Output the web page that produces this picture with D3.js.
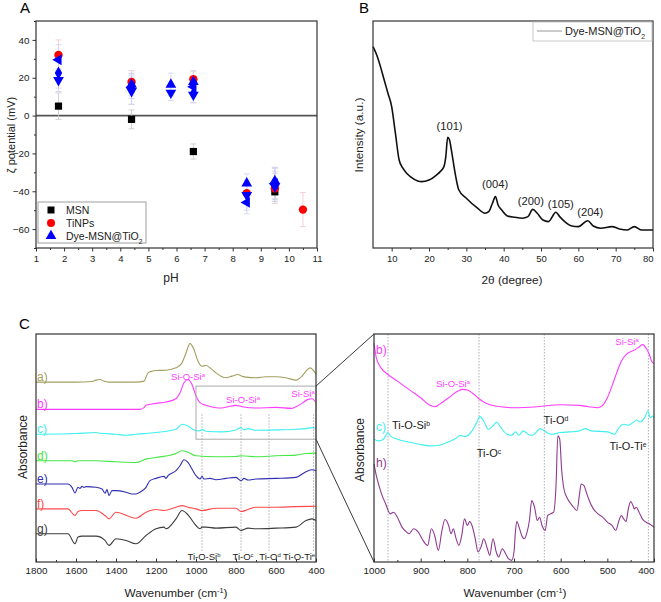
<!DOCTYPE html>
<html><head><meta charset="utf-8">
<script src="https://cdn.jsdelivr.net/npm/d3@7"></script>
<style>body{margin:0;background:#fff}svg{display:block}text{font-family:"Liberation Sans",Arial,sans-serif}</style>
</head><body><svg id="c" width="661" height="602"></svg>
<script>
// ---------- Panel A data: zeta potential vs pH ----------
const msnPts = [ {pH:1.8,v:5,e:7}, {pH:4.4,v:-2,e:5}, {pH:6.6,v:-19,e:4}, {pH:9.5,v:-40.3,e:4} ];
const tinpPts = [ {pH:1.8,v:32,e:8}, {pH:4.4,v:17.8,e:6}, {pH:6.6,v:19.2,e:4}, {pH:8.5,v:-41,e:6}, {pH:9.5,v:-38.5,e:8}, {pH:10.5,v:-49.7,e:9} ];
const dyeUp = [ {pH:4.4,v:16.4,e:6}, {pH:5.8,v:16.4,e:6}, {pH:6.6,v:17.8,e:6}, {pH:8.5,v:-35.8,e:5}, {pH:9.5,v:-34.5,e:7} ];
const dyeDown = [ {pH:1.8,v:18.7,e:6}, {pH:4.4,v:12.9,e:7}, {pH:5.8,v:12,e:4}, {pH:6.6,v:11,e:4}, {pH:8.5,v:-42,e:8}, {pH:9.5,v:-37.5,e:8} ];
const dyeLeft = [ {pH:1.8,v:29.5,e:8}, {pH:4.4,v:15,e:6}, {pH:6.6,v:15.2,e:5}, {pH:8.5,v:-45.9,e:6}, {pH:9.5,v:-36,e:8} ];
const dyeDiamond = [ {pH:1.8,v:22.5,e:8}, {pH:4.4,v:14,e:8}, {pH:6.6,v:11.7,e:5}, {pH:9.5,v:-36.3,e:9} ];
const pHTicks = [1,2,3,4,5,6,7,8,9,10,11];
const zetaTicks = [-60,-40,-20,0,20,40];

// ---------- Panel B data: XRD ----------
const xrdTheta = [5,6,7,8,9,10,11,12,13,14,15,17,18,20,22,23,24,24.5,25,25.5,26,27,28,30,33,35,36,37,37.8,38.5,39.5,41,43,45,46.5,47.8,49,50.5,52,54,55,56.5,58,60,62.5,64,66,69,71,73,75,77,80];
const xrdInt = [886,849,798,739,681,622,505,387,351,329,314,295,292,299,321,336,358,402,487,475,431,329,255,219,175,153,160,197,226,189,167,141,135,131,138,170,153,123,116,157,138,114,98,94,120,97,87,94,84,79,94,79,79];
const xrdPeaks = [ {t:25.5,lab:"(101)"}, {t:37.7,lab:"(004)"}, {t:47.3,lab:"(200)"}, {t:55.3,lab:"(105)"}, {t:63.2,lab:"(204)"} ];
const thetaTicks = [10,20,30,40,50,60,70,80];

// ---------- Panel C data: FTIR spectra (stacked, a.u.) ----------
const specA = [[1800,542],[1700,542],[1600,542],[1520,544],[1500,548],[1480,550],[1460,545],[1440,542],[1300,542],[1260,545],[1240,570],[1220,575],[1200,577],[1150,578],[1100,585],[1070,600],[1050,630],[1030,658],[1010,640],[990,605],[970,590],[950,592],[930,585],[900,570],[870,558],[850,555],[820,560],[790,565],[770,560],[750,557],[700,555],[650,558],[600,558],[550,555],[500,548],[470,560],[450,575],[430,585],[420,582],[410,575],[400,565]];
const specB = [[1800,460],[1500,460],[1280,460],[1260,465],[1250,472],[1200,478],[1150,482],[1100,492],[1080,510],[1060,540],[1040,550],[1020,535],[1000,500],[980,480],[950,472],[900,465],[870,464],[840,468],[800,472],[770,468],[700,464],[600,466],[520,463],[500,468],[470,478],[440,490],[420,492],[400,480]];
const specC = [[1800,385],[1600,387],[1500,390],[1480,388],[1400,385],[1350,382],[1300,385],[1200,390],[1100,400],[1070,415],[1040,410],[1010,398],[980,395],[970,400],[950,394],[870,392],[800,398],[775,405],[760,398],[740,402],[700,397],[600,398],[500,400],[450,402],[420,405],[400,402]];
const specD = [[1800,305],[1620,305],[1605,302],[1590,305],[1500,305],[1400,302],[1300,300],[1250,310],[1200,315],[1100,327],[1070,335],[1050,333],[1000,320],[900,317],[800,318],[775,320],[700,317],[600,320],[500,322],[450,327],[400,328]];
const specE = [[1800,235],[1640,235],[1620,225],[1605,208],[1590,225],[1580,222],[1570,228],[1560,225],[1550,227],[1500,225],[1470,220],[1455,207],[1445,218],[1435,200],[1420,215],[1400,215],[1350,210],[1320,205],[1300,205],[1280,210],[1250,225],[1230,245],[1200,252],[1160,258],[1150,252],[1140,260],[1100,275],[1080,290],[1060,308],[1040,300],[1020,280],[1000,260],[980,250],[970,258],[960,250],[930,252],[900,248],[850,252],[800,255],[775,245],[760,252],[740,247],[700,250],[600,252],[500,255],[450,272],[420,278],[400,275]];
const specF = [[1800,160],[1640,160],[1605,140],[1590,152],[1570,155],[1500,155],[1455,140],[1435,130],[1400,150],[1300,132],[1250,150],[1200,158],[1160,155],[1100,165],[1070,170],[1040,165],[1000,160],[970,155],[900,162],[800,162],[775,152],[740,158],[700,165],[600,165],[500,167],[400,168]];
const specG = [[1800,85],[1640,85],[1605,55],[1590,75],[1570,78],[1500,78],[1455,65],[1435,50],[1400,70],[1350,65],[1300,55],[1250,80],[1200,100],[1160,105],[1150,100],[1100,130],[1070,155],[1040,142],[1000,110],[980,100],[970,105],[950,105],[900,102],[800,105],[775,95],[740,102],[700,100],[600,102],[500,105],[450,125],[420,130],[400,125]];
const zoomB = [[1000,660],[995,615],[985,585],[970,565],[950,545],[920,515],[900,495],[880,472],[870,468],[860,475],[840,495],[820,515],[810,520],[800,518],[790,510],[775,492],[760,478],[740,470],[700,465],[650,468],[600,474],[560,472],[540,468],[520,465],[510,472],[500,495],[490,530],[480,570],[470,605],[460,625],[440,640],[430,650],[425,655],[415,640],[410,625],[405,605],[400,598]];
const zoomC = [[1000,370],[990,365],[980,370],[975,380],[970,390],[965,380],[950,370],[920,360],[900,354],[880,350],[860,352],[840,362],[825,372],[815,382],[805,378],[790,395],[780,420],[773,438],[765,425],[755,400],[745,410],[737,422],[728,405],[715,385],[705,382],[697,392],[690,382],[680,395],[670,385],[660,382],[650,395],[645,402],[638,398],[630,390],[620,385],[600,390],[580,392],[560,395],[547,402],[535,395],[500,392],[485,385],[475,405],[465,415],[455,412],[445,420],[437,428],[430,422],[420,435],[413,455],[408,435],[403,440],[400,435]];
const zoomH = [[1000,295],[995,260],[985,210],[975,175],[965,145],[958,150],[950,135],[940,105],[930,90],[925,85],[915,100],[905,90],[895,65],[885,50],[877,100],[870,80],[862,35],[855,90],[848,128],[840,110],[835,85],[830,100],[825,75],[818,50],[812,80],[806,130],[800,110],[795,122],[790,110],[783,70],[777,30],[770,48],[765,70],[757,40],[752,20],[745,70],[738,30],[733,15],[725,40],[718,25],[712,10],[705,5],[700,30],[697,90],[694,122],[688,100],[682,75],[678,70],[672,90],[667,125],[662,185],[656,165],[650,125],[645,135],[640,110],[633,95],[628,140],[622,145],[615,150],[610,230],[606,380],[602,370],[598,280],[593,220],[585,190],[575,170],[565,155],[560,200],[556,235],[550,230],[545,210],[540,190],[530,160],[520,145],[510,135],[500,120],[490,110],[482,95],[475,125],[470,140],[465,130],[460,122],[455,160],[450,182],[445,170],[442,160],[438,165],[432,150],[425,130],[415,118],[410,115],[405,110],[400,105]];
const bandLines = [970, 775, 635, 412];
const wnTicksL = [1800,1600,1400,1200,1000,800,600,400];
const wnTicksR = [1000,900,800,700,600,500,400];
const insetWn = [1000, 400];
const insetAbs = [370, 530];

const svg = d3.select("#c");
const FONT = '"Liberation Sans",Arial,sans-serif';

function rich(g, x, y, parts, o) {
  o = o || {};
  const t = g.append("text").attr("x", x).attr("y", y)
    .attr("font-size", o.size || 10).attr("fill", o.fill || "#222")
    .attr("text-anchor", o.anchor || "start");
  parts.forEach(p => {
    const s = t.append("tspan").text(p[0]);
    if (p[1] === "sup") s.attr("baseline-shift", "super").attr("font-size", (o.size || 10) * 0.62);
    if (p[1] === "sub") s.attr("baseline-shift", "sub").attr("font-size", (o.size || 10) * 0.62);
  });
  return t;
}
function frame(x0, y0, x1, y1, col) {
  svg.append("rect").attr("x", x0).attr("y", y0).attr("width", x1 - x0).attr("height", y1 - y0)
    .attr("fill", "none").attr("stroke", col || "#333").attr("stroke-width", 1.2);
}
function styleAxis(g, size, shiftLast) {
  g.select(".domain").remove();
  g.selectAll("line").attr("stroke", "#333");
  g.selectAll("text").attr("font-size", size || 9.5).attr("fill", "#222").attr("font-family", FONT);
  if (shiftLast) {
    const ts = g.selectAll(".tick text").nodes();
    if (ts.length) d3.select(ts[ts.length - 1]).attr("text-anchor", "end").attr("dx", 0);
  }
}
function vLabel(x, y, txt, size) {
  svg.append("text").attr("transform", `translate(${x},${y}) rotate(-90)`).attr("text-anchor", "middle")
    .attr("font-size", size).attr("fill", "#222").text(txt);
}

// ================= Panel A =================
const xA = d3.scaleLinear([1, 11], [36, 317]);
const yA = d3.scaleLinear([-70, 50], [248, 21]);
svg.append("text").attr("x", 20).attr("y", 13).attr("font-size", 15).text("A");
const gA = svg.append("g");
gA.append("g").attr("transform", "translate(0,248)")
  .call(d3.axisBottom(xA).tickValues(d3.range(1.5, 11, 1)).tickSize(2).tickFormat(""))
  .call(g => styleAxis(g));
gA.append("g").attr("transform", "translate(0,248)")
  .call(d3.axisBottom(xA).tickValues(pHTicks).tickSize(3.5).tickPadding(4).tickFormat(d3.format("d")))
  .call(g => styleAxis(g, 9.5));
gA.append("g").attr("transform", "translate(36,0)")
  .call(d3.axisLeft(yA).tickValues(d3.range(-70, 51, 10).filter(v => v % 20 !== 0)).tickSize(2).tickFormat(""))
  .call(g => styleAxis(g));
gA.append("g").attr("transform", "translate(36,0)")
  .call(d3.axisLeft(yA).tickValues(zetaTicks).tickSize(3.5).tickPadding(3).tickFormat(d3.format("d")))
  .call(g => styleAxis(g, 9.8));
gA.append("line").attr("x1", xA(1)).attr("x2", xA(11)).attr("y1", yA(0)).attr("y2", yA(0))
  .attr("stroke", "#555").attr("stroke-width", 1.6);
frame(36, 21, 317, 248);
svg.append("text").attr("x", 171).attr("y", 282).attr("text-anchor", "middle").attr("font-size", 12).attr("fill", "#222").text("pH");
vLabel(15, 135, "ζ potential (mV)", 11);

function errBars(data, col) {
  const g = gA.append("g").attr("stroke", col).attr("stroke-width", 0.8);
  data.forEach(d => {
    const x = xA(d.pH);
    g.append("line").attr("x1", x).attr("x2", x).attr("y1", yA(d.v + d.e)).attr("y2", yA(d.v - d.e));
    [d.v + d.e, d.v - d.e].forEach(v => g.append("line").attr("x1", x - 3).attr("x2", x + 3).attr("y1", yA(v)).attr("y2", yA(v)));
  });
}
errBars(msnPts, "#c8c8c8");
errBars(tinpPts, "#f3c4cc");
[dyeUp, dyeDown, dyeLeft, dyeDiamond].forEach(s => errBars(s, "#cfd0f0"));

const triUp = d3.symbol(d3.symbolTriangle, 50)();
const diam = d3.symbol(d3.symbolDiamond, 48)();
function plotSym(data, path, rot, col) {
  gA.append("g").selectAll("path").data(data).join("path")
    .attr("d", path).attr("fill", col)
    .attr("transform", d => `translate(${xA(d.pH)},${yA(d.v)}) rotate(${rot})`);
}
gA.append("g").selectAll("rect").data(msnPts).join("rect")
  .attr("x", d => xA(d.pH) - 3.6).attr("y", d => yA(d.v) - 3.6).attr("width", 7.2).attr("height", 7.2).attr("fill", "#000");
gA.append("g").selectAll("circle").data(tinpPts).join("circle")
  .attr("cx", d => xA(d.pH)).attr("cy", d => yA(d.v)).attr("r", 4.2).attr("fill", "#ff0000");
plotSym(dyeLeft, triUp, -90, "#0000ff");
plotSym(dyeDiamond, diam, 0, "#0000ff");
plotSym(dyeDown, triUp, 180, "#0000ff");
plotSym(dyeUp, triUp, 0, "#0000ff");
// legend A
const lg = svg.append("g");
lg.append("rect").attr("x", 38).attr("y", 202).attr("width", 108).attr("height", 41)
  .attr("fill", "#fff").attr("stroke", "#888").attr("stroke-width", 0.8);
lg.append("rect").attr("x", 47.5).attr("y", 206.5).attr("width", 7).attr("height", 7).attr("fill", "#000");
lg.append("circle").attr("cx", 51).attr("cy", 223).attr("r", 4).attr("fill", "#ff0000");
lg.append("path").attr("d", triUp).attr("transform", "translate(51,236)").attr("fill", "#0000ff");
rich(lg, 66, 214, [["MSN"]], { size: 10.5 });
rich(lg, 66, 227, [["TiNPs"]], { size: 10.5 });
rich(lg, 66, 240, [["Dye-MSN@TiO"], ["2", "sub"]], { size: 10.5 });

// ================= Panel B =================
const xB = d3.scaleLinear([5, 80], [373, 653]);
const yB = d3.scaleLinear([0, 1000], [248, 20.7]);
svg.append("text").attr("x", 359).attr("y", 13).attr("font-size", 15).text("B");
svg.append("g").attr("transform", "translate(0,248)")
  .call(d3.axisBottom(xB).tickValues(d3.range(15, 80, 10)).tickSize(2).tickFormat(""))
  .call(g => styleAxis(g));
svg.append("g").attr("transform", "translate(0,248)")
  .call(d3.axisBottom(xB).tickValues(thetaTicks).tickSize(3.5).tickPadding(4).tickFormat(d3.format("d")))
  .call(g => styleAxis(g, 9.5, true));
const xrd = xrdTheta.map((t, i) => [t, xrdInt[i]]);
svg.append("path").datum(xrd)
  .attr("d", d3.line().x(d => xB(d[0])).y(d => yB(d[1])).curve(d3.curveMonotoneX))
  .attr("fill", "none").attr("stroke", "#111").attr("stroke-width", 1.6);
frame(373, 21, 653, 248);
const peakY = [125, 183, 200, 203, 211];
xrdPeaks.forEach((p, i) => {
  svg.append("text").attr("x", xB(p.t)).attr("y", peakY[i] + 4.5).attr("text-anchor", "middle")
    .attr("font-size", 11.2).attr("fill", "#222").text(p.lab);
});
svg.append("rect").attr("x", 533).attr("y", 22).attr("width", 119).attr("height", 19)
  .attr("fill", "#fff").attr("stroke", "#bbb").attr("stroke-width", 0.8);
svg.append("line").attr("x1", 537).attr("x2", 562).attr("y1", 31).attr("y2", 31).attr("stroke", "#999").attr("stroke-width", 1);
rich(svg, 565, 35, [["Dye-MSN@TiO"], ["2", "sub"]], { size: 11 });
rich(svg, 512, 284, [["2θ (degree)"]], { size: 11.8, anchor: "middle" });
vLabel(363, 135, "Intensity (a.u.)", 11.8);

// ================= Panel C =================
const xCL = d3.scaleLinear([1800, 400], [36, 316]);
const xCR = d3.scaleLinear([1000, 400], [374, 654]);
const yC = d3.scaleLinear([0, 687], [562, 334]);
svg.append("text").attr("x", 19).attr("y", 329).attr("font-size", 15).text("C");

function cAxis(xs, ticks, minor, shiftLast) {
  svg.append("g").attr("transform", "translate(0,562)")
    .call(d3.axisBottom(xs).tickValues(minor).tickSize(-2).tickFormat(""))
    .call(g => styleAxis(g));
  svg.append("g").attr("transform", "translate(0,562)")
    .call(d3.axisBottom(xs).tickValues(ticks).tickSize(-3.5).tickPadding(5).tickFormat(d3.format("d")))
    .call(g => styleAxis(g, 9.8, shiftLast));
}
cAxis(xCL, wnTicksL, d3.range(1700, 400, -200), false);
cAxis(xCR, wnTicksR, d3.range(950, 400, -100), true);

bandLines.forEach(w => {
  svg.append("line").attr("x1", xCL(w)).attr("x2", xCL(w)).attr("y1", yC(445)).attr("y2", yC(30))
    .attr("stroke", "#9a9aaa").attr("stroke-width", 0.8).attr("stroke-dasharray", "1.5,1.5");
  svg.append("line").attr("x1", xCR(w)).attr("x2", xCR(w)).attr("y1", 334).attr("y2", 562)
    .attr("stroke", "#9a9aaa").attr("stroke-width", 0.8).attr("stroke-dasharray", "1.5,1.5");
});

const lineL = d3.line().x(d => xCL(d[0])).y(d => yC(d[1])).curve(d3.curveMonotoneX);
const lineR = d3.line().x(d => xCR(d[0])).y(d => yC(d[1])).curve(d3.curveMonotoneX);
const specs = [
  { d: specA, c: "#a39f62", lab: "a)" },
  { d: specB, c: "#ff3cff", lab: "b)" },
  { d: specC, c: "#3ef0f0", lab: "c)" },
  { d: specD, c: "#45e845", lab: "d)" },
  { d: specE, c: "#3030b0", lab: "e)" },
  { d: specF, c: "#ff4a4a", lab: "f)" },
  { d: specG, c: "#3c3c3c", lab: "g)" }
];
specs.forEach(s => {
  svg.append("path").datum(s.d).attr("d", lineL).attr("fill", "none").attr("stroke", s.c).attr("stroke-width", 1.1);
  svg.append("text").attr("x", 37).attr("y", yC(s.d[0][1]) - 1).attr("font-size", 12).attr("fill", s.c).text(s.lab);
});
svg.append("rect").attr("x", xCL(insetWn[0])).attr("y", yC(insetAbs[1]))
  .attr("width", xCL(insetWn[1]) - xCL(insetWn[0])).attr("height", yC(insetAbs[0]) - yC(insetAbs[1]))
  .attr("fill", "none").attr("stroke", "#aaa").attr("stroke-width", 1);
svg.append("line").attr("x1", xCL(insetWn[1])).attr("y1", yC(insetAbs[1])).attr("x2", xCR(1000)).attr("y2", 334).attr("stroke", "#222").attr("stroke-width", 0.9);
svg.append("line").attr("x1", xCL(insetWn[1])).attr("y1", yC(insetAbs[0])).attr("x2", xCR(1000)).attr("y2", 562).attr("stroke", "#222").attr("stroke-width", 0.9);
frame(36, 334, 316, 562);

const mag = "#ff3cff";
rich(svg, 188, 380, [["Si-O-Si"], ["a", "sup"]], { size: 9.5, fill: mag, anchor: "middle" });
rich(svg, 243, 403, [["Si-O-Si"], ["a", "sup"]], { size: 9.5, fill: mag, anchor: "middle" });
rich(svg, 303, 397, [["Si-Si"], ["a", "sup"]], { size: 9.5, fill: mag, anchor: "middle" });
rich(svg, 204, 560, [["Ti-O-Si"], ["b", "sup"]], { size: 9.5, anchor: "middle" });
rich(svg, 243, 560, [["Ti-O"], ["c", "sup"]], { size: 9.5, anchor: "middle" });
rich(svg, 270, 560, [["Ti-O"], ["d", "sup"]], { size: 9.5, anchor: "middle" });
rich(svg, 299, 560, [["Ti-O-Ti"], ["e", "sup"]], { size: 9.5, anchor: "middle" });
rich(svg, 176, 597, [["Wavenumber (cm"], ["-1", "sup"], [")"]], { size: 11.8, anchor: "middle" });
vLabel(27, 447, "Absorbance", 12);

[{ d: zoomB, c: "#ff3cff" }, { d: zoomC, c: "#3ef0f0" }, { d: zoomH, c: "#8e3a90" }].forEach(s => {
  svg.append("path").datum(s.d).attr("d", lineR).attr("fill", "none").attr("stroke", s.c).attr("stroke-width", 1.1);
});
frame(374, 334, 654, 562);
svg.append("text").attr("x", 376).attr("y", 354).attr("font-size", 12).attr("fill", mag).text("b)");
svg.append("text").attr("x", 376).attr("y", 431).attr("font-size", 12).attr("fill", "#3ef0f0").text("c)");
svg.append("text").attr("x", 376).attr("y", 467).attr("font-size", 12).attr("fill", "#8e3a90").text("h)");
rich(svg, 627, 345, [["Si-Si"], ["a", "sup"]], { size: 9.5, fill: mag, anchor: "middle" });
rich(svg, 453, 387, [["Si-O-Si"], ["a", "sup"]], { size: 9.5, fill: mag, anchor: "middle" });
rich(svg, 411, 429, [["Ti-O-Si"], ["b", "sup"]], { size: 11, anchor: "middle" });
rich(svg, 556, 424, [["Ti-O"], ["d", "sup"]], { size: 11, anchor: "middle" });
rich(svg, 489, 457, [["Ti-O"], ["c", "sup"]], { size: 11, anchor: "middle" });
rich(svg, 628, 450, [["Ti-O-Ti"], ["e", "sup"]], { size: 11, anchor: "middle" });
rich(svg, 515, 597, [["Wavenumber (cm"], ["-1", "sup"], [")"]], { size: 11.8, anchor: "middle" });
vLabel(364, 450, "Absorbance", 12);
</script></body></html>
